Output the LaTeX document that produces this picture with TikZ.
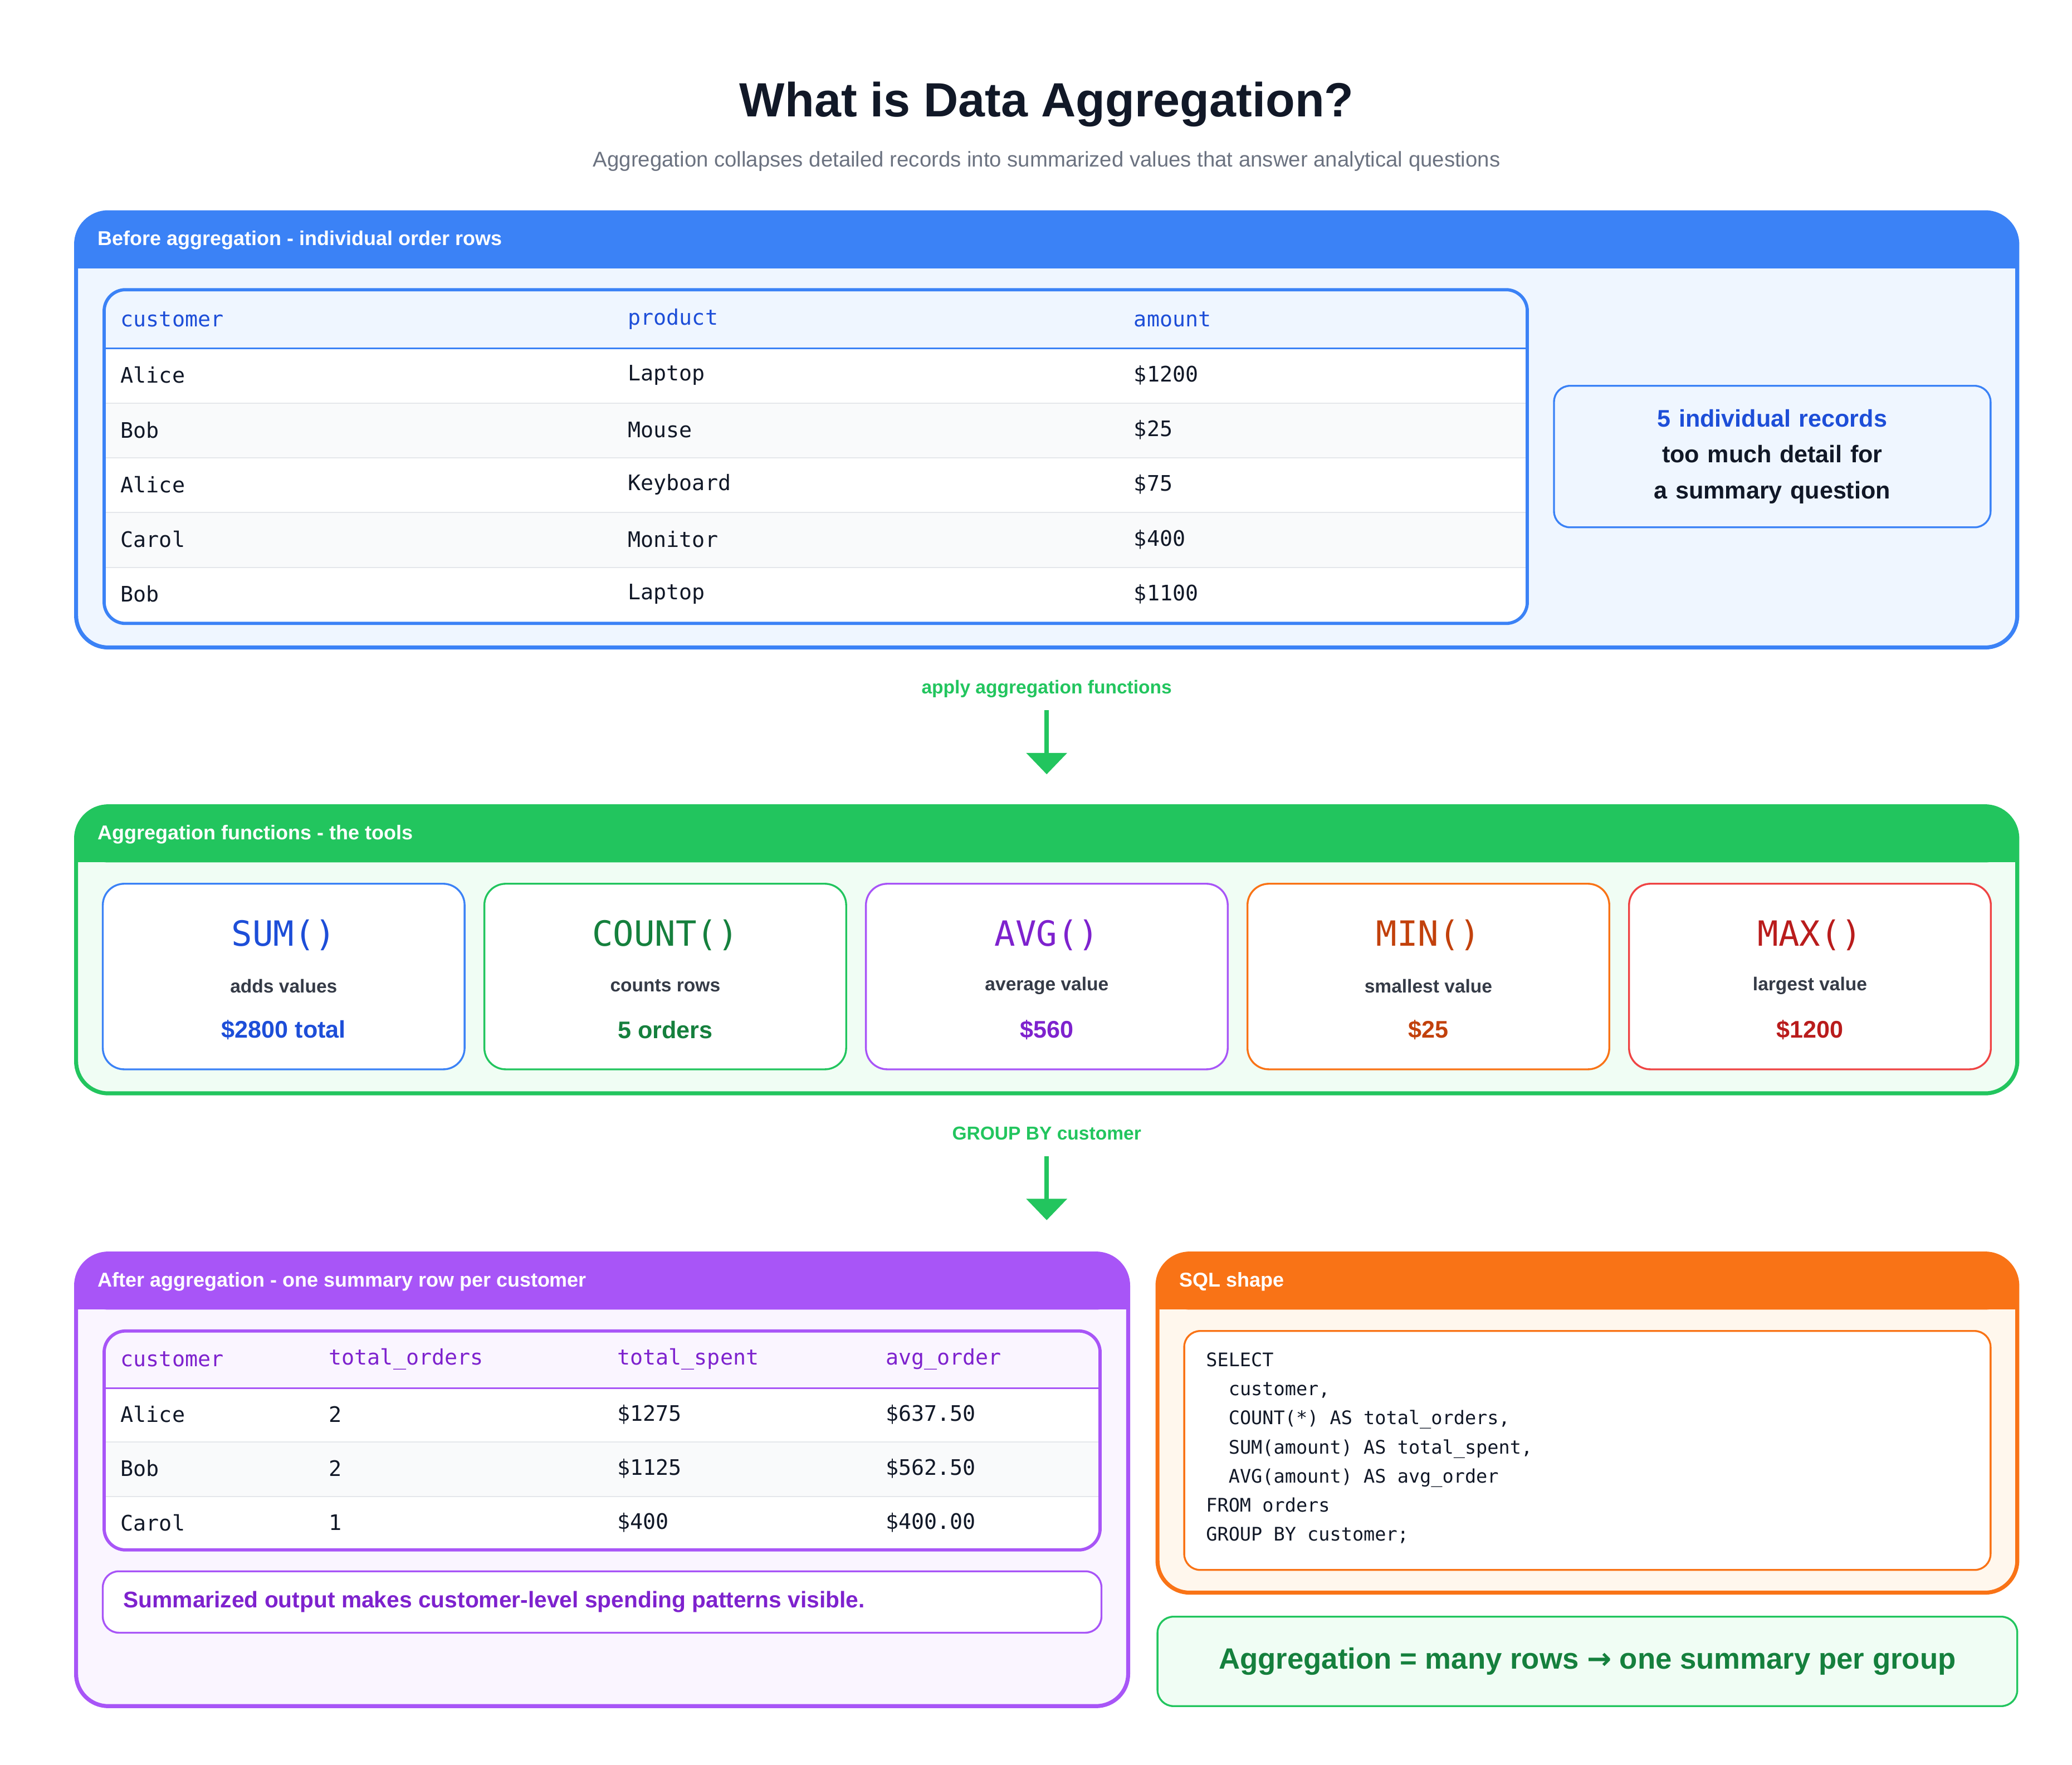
\documentclass[tikz,border=0pt]{standalone}
\usepackage{fontspec}
\setmainfont{Liberation Sans}
\setmonofont{DejaVu Sans Mono}
\newfontfamily\arrowfont{DejaVu Sans}
\usetikzlibrary{arrows.meta, positioning, calc}

\definecolor{ink}{HTML}{111827}
\definecolor{grayt}{HTML}{6B7280}
\definecolor{bluel}{HTML}{3B82F6}
\definecolor{blued}{HTML}{1D4ED8}
\definecolor{bluebg}{HTML}{EFF6FF}
\definecolor{greenl}{HTML}{22C55E}
\definecolor{greend}{HTML}{15803D}
\definecolor{greenbg}{HTML}{F0FDF4}
\definecolor{purl}{HTML}{A855F7}
\definecolor{purd}{HTML}{7E22CE}
\definecolor{purbg}{HTML}{FAF5FF}
\definecolor{orl}{HTML}{F97316}
\definecolor{ord}{HTML}{C2410C}
\definecolor{orbg}{HTML}{FFF7ED}
\definecolor{redl}{HTML}{EF4444}
\definecolor{redd}{HTML}{B91C1C}
\definecolor{rowbg}{HTML}{F9FAFB}
\definecolor{rule}{HTML}{E5E7EB}

% panel: name, x1, y1, x2, y2, line colour, fill colour, title
\newcommand{\aggpanel}[8]{%
  \fill[#7, rounded corners=12] (#2,#3) rectangle (#4,#5);
  \fill[#6, rounded corners=12] (#2,#3) rectangle (#4,#3+42);
  \fill[#6] (#2,#3+20) rectangle (#4,#3+42);
  \draw[#6, line width=1.5pt, rounded corners=12] (#2,#3) rectangle (#4,#5);
  \node[paneltitle] (#1) at (#2+16,#3+21) {#8};
}

\begin{document}
\begin{tikzpicture}[x=0.5pt, y=-0.5pt, every node/.style={inner sep=0pt}]
    % Define styles
    \tikzstyle{paneltitle} = [anchor=west, text=white, font=\fontsize{7.5}{9}\selectfont\bfseries]
    \tikzstyle{cell} = [anchor=west, text=ink, font=\fontsize{8}{10}\ttfamily]
    \tikzstyle{headcell} = [anchor=west, font=\fontsize{8}{10}\ttfamily]
    \tikzstyle{card} = [draw, line width=0.7pt, rounded corners=8, fill=white, minimum width=135.5pt, minimum height=69.5pt]
    \tikzstyle{steplabel} = [text=greenl, font=\fontsize{7}{9}\selectfont\bfseries]
    \tikzstyle{flow} = [greenl, line width=1.6pt, -{Triangle[length=8pt, width=15pt]}]

    \useasboundingbox (0,0) rectangle (1552,1322);

    % Title
    \node[text=ink, font=\fontsize{18}{22}\selectfont\bfseries] (title) at (784,78) {What is Data Aggregation?};
    \node[text=grayt, font=\fontsize{8}{10}\selectfont] (subtitle) at (784,121) {Aggregation collapses detailed records into summarized values that answer analytical questions};

    % Before aggregation
    \aggpanel{before}{57}{159}{1511}{485}{bluel}{bluebg}{Before aggregation - individual order rows}
    \fill[white, rounded corners=8] (78,217) rectangle (1144,467);
    \fill[bluebg, rounded corners=8] (78,217) rectangle (1144,261);
    \fill[bluebg] (78,240) rectangle (1144,261);
    \fill[rowbg] (79,302) rectangle (1143,343);
    \fill[rowbg] (79,384) rectangle (1143,425);
    \foreach \y in {302,343,384,425} \draw[rule, line width=0.4pt] (79,\y) -- (1143,\y);
    \draw[bluel, line width=0.7pt] (78,261) -- (1144,261);
    \draw[bluel, line width=1.2pt, rounded corners=8] (78,217) rectangle (1144,467);
    \node[headcell, text=blued] (hcust) at (90,239) {customer};
    \node[headcell, text=blued] (hprod) at (470,239) {product};
    \node[headcell, text=blued] (hamt) at (849,239) {amount};
    \foreach \c/\p/\a [count=\i] in {Alice/Laptop/\$1200, Bob/Mouse/\$25, Alice/Keyboard/\$75, Carol/Monitor/\$400, Bob/Laptop/\$1100} {
        \node[cell] (r\i c) at (90,240+41*\i) {\c};
        \node[cell] (r\i p) at (470,240+41*\i) {\p};
        \node[cell] (r\i a) at (849,240+41*\i) {\a};
    }
    \node[draw=bluel, line width=0.7pt, fill=bluebg, rounded corners=6, minimum width=163.5pt, minimum height=53pt, text width=155pt, align=center, font=\fontsize{9}{13.5}\selectfont\bfseries, text=ink] (records) at (1327.5,342)
        {\textcolor{blued}{5 individual records}\\too much detail for a summary question};

    % Step 1
    \node[steplabel] (apply) at (784,516) {apply aggregation functions};
    \coordinate (a1s) at (784,532);
    \coordinate (a1e) at (784,580);
    \draw[flow] (a1s) -- (a1e);

    % Aggregation functions
    \aggpanel{funcs}{57}{604}{1511}{819}{greenl}{greenbg}{Aggregation functions - the tools}
    \foreach \f/\d/\v/\lc/\dc [count=\i] in {SUM()/adds values/\$2800 total/bluel/blued, COUNT()/counts rows/5 orders/greenl/greend, AVG()/average value/\$560/purl/purd, MIN()/smallest value/\$25/orl/ord, MAX()/largest value/\$1200/redl/redd} {
        \node[card, draw=\lc] (card\i) at (212.5+285.8*\i-285.8,731.5) {};
        \node[text=\dc, font=\fontsize{13}{15}\ttfamily] (fn\i) at ($(card\i.center)+(0,-31)$) {\f};
        \node[text=ink!85, font=\fontsize{7}{9}\selectfont\bfseries] (fd\i) at ($(card\i.center)+(0,7)$) {\d};
        \node[text=\dc, font=\fontsize{9}{11}\selectfont\bfseries] (fv\i) at ($(card\i.center)+(0,40)$) {\v};
    }

    % Step 2
    \node[steplabel] (groupby) at (784,849) {GROUP BY customer};
    \coordinate (a2s) at (784,866);
    \coordinate (a2e) at (784,914);
    \draw[flow] (a2s) -- (a2e);

    % After aggregation
    \aggpanel{after}{57}{939}{845}{1278}{purl}{purbg}{After aggregation - one summary row per customer}
    \fill[white, rounded corners=8] (78,997) rectangle (824,1161);
    \fill[purbg, rounded corners=8] (78,997) rectangle (824,1040);
    \fill[purbg] (78,1020) rectangle (824,1040);
    \fill[rowbg] (79,1080) rectangle (823,1121);
    \foreach \y in {1080,1121} \draw[rule, line width=0.4pt] (79,\y) -- (823,\y);
    \draw[purl, line width=0.7pt] (78,1040) -- (824,1040);
    \draw[purl, line width=1.2pt, rounded corners=8] (78,997) rectangle (824,1161);
    \foreach \h/\x in {customer/90, total\_orders/246, total\_spent/462, avg\_order/663}
        \node[headcell, text=purd] (h\x) at (\x,1018) {\h};
    \foreach \c/\n/\s/\a [count=\i] in {Alice/2/\$1275/\$637.50, Bob/2/\$1125/\$562.50, Carol/1/\$400/\$400.00} {
        \node[cell] (s\i c) at (90,1019+40.5*\i) {\c};
        \node[cell] (s\i n) at (246,1019+40.5*\i) {\n};
        \node[cell] (s\i s) at (462,1019+40.5*\i) {\s};
        \node[cell] (s\i a) at (663,1019+40.5*\i) {\a};
    }
    \node[draw=purl, line width=0.7pt, fill=white, rounded corners=6, minimum width=374pt, minimum height=23pt] (notebox) at (451,1200) {};
    \node[anchor=west, text=purd, font=\fontsize{8.5}{10}\selectfont\bfseries] (note) at (92,1200) {Summarized output makes customer-level spending patterns visible.};

    % SQL shape
    \aggpanel{sql}{867}{939}{1511}{1193}{orl}{orbg}{SQL shape}
    \node[draw=orl, line width=0.7pt, fill=white, rounded corners=6, minimum width=302pt, minimum height=89.5pt] (codebox) at (1189,1086.5) {};
    \node[anchor=north west, text=ink, align=left, font=\fontsize{7}{10.85}\ttfamily] (code) at (903,1013)
        {SELECT\\
        \ \ customer,\\
        \ \ COUNT(*) AS total\_orders,\\
        \ \ SUM(amount) AS total\_spent,\\
        \ \ AVG(amount) AS avg\_order\\
        FROM orders\\
        GROUP BY customer;};

    % Takeaway
    \node[draw=greenl, line width=0.7pt, fill=greenbg, rounded corners=6, minimum width=322pt, minimum height=33.5pt, text=greend, font=\fontsize{11}{13}\selectfont\bfseries] (takeaway) at (1189,1244.5)
        {Aggregation = many rows {\arrowfont\bfseries →} one summary per group};
\end{tikzpicture}
\end{document}
